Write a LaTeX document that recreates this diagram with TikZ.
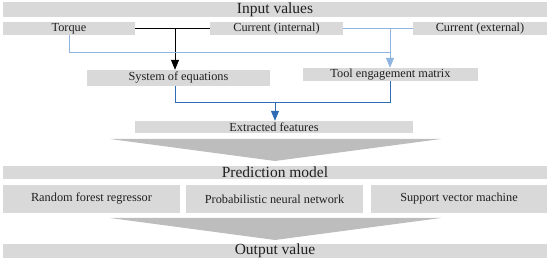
\documentclass[tikz,border=0pt]{standalone}
\usepackage{fontspec}
\setmainfont{Liberation Serif}
\usetikzlibrary{arrows.meta}
\definecolor{boxgray}{HTML}{D9D9D9}
\definecolor{funnelgray}{HTML}{BDBDBD}
\definecolor{lightblue}{HTML}{8FB4E0}
\definecolor{darkblue}{HTML}{2E6DB4}
\definecolor{txt}{HTML}{202020}
\begin{document}
\begin{tikzpicture}[x=1pt,y=-1pt,
  box/.style={fill=boxgray,draw=none,inner sep=0pt,anchor=center,text=txt,font=\fontsize{12.3}{13}\selectfont},
  bar/.style={box,minimum width=544pt,font=\fontsize{15.5}{16}\selectfont},
  tip/.style={-{Triangle[width=8pt,length=10pt]}},
  funnel/.style={fill=funnelgray,draw=none}]
\useasboundingbox (0,0) rectangle (550,264);
% headline bars
\node[bar,minimum height=13pt] (input) at (275,9.5) {Input values};
\node[bar,minimum height=13pt] (pred) at (275,172.5) {Prediction model};
\node[bar,minimum height=14pt] (output) at (275,251) {Output value};
% input row
\node[box,minimum width=132pt,minimum height=13pt] (torque) at (69,28.5) {Torque};
\node[box,minimum width=133pt,minimum height=13pt] (curint) at (276.5,28.5) {Current (internal)};
\node[box,minimum width=134pt,minimum height=13pt] (curext) at (480,28.5) {Current (external)};
% intermediate
\node[box,minimum width=183pt,minimum height=16pt] (soe) at (178.5,78) {System of equations};
\node[box,minimum width=175pt,minimum height=13pt] (tem) at (390.5,74.5) {Tool engagement matrix};
\node[box,minimum width=278pt,minimum height=12pt] (ef) at (274,127) {Extracted features};
% models
\node[box,minimum width=177pt,minimum height=28pt] (rf) at (91.5,199) {Random forest regressor};
\node[box,minimum width=177pt,minimum height=28pt] (pnn) at (274.5,199) {Probabilistic neural network};
\node[box,minimum width=176pt,minimum height=28pt] (svm) at (459,199) {Support vector machine};
% funnels
\coordinate (f1l) at (110,139);
\coordinate (f1r) at (441,139);
\coordinate (f1b) at (275,161);
\fill[funnel] (f1l) -- (f1r) -- (f1b) -- cycle;
\coordinate (f2l) at (110,218);
\coordinate (f2r) at (441,218);
\coordinate (f2b) at (275,240);
\fill[funnel] (f2l) -- (f2r) -- (f2b) -- cycle;
% black connector
\coordinate (jb) at (175,28.5);
\draw[black,line width=0.8pt] (torque.east) -- (curint.west);
\draw[black,line width=0.8pt,tip] (jb) -- (jb |- soe.north);
% light blue connectors
\coordinate (jl) at (390,28.5);
\coordinate (jt) at (390,52);
\draw[lightblue,line width=0.8pt] (curint.east) -- (curext.west);
\draw[lightblue,line width=0.8pt] (torque.south) |- (jt);
\draw[lightblue,line width=0.8pt,tip] (jl) -- (jl |- tem.north);
% dark blue connectors
\coordinate (ds) at (175,86);
\coordinate (dl) at (175,102);
\coordinate (dr) at (390,102);
\coordinate (dm) at (275,102);
\draw[darkblue,line width=0.8pt] (ds) -- (dl) -- (dr) -- (dr |- tem.south);
\draw[darkblue,line width=0.8pt,tip] (dm) -- (dm |- ef.north);
\end{tikzpicture}
\end{document}
